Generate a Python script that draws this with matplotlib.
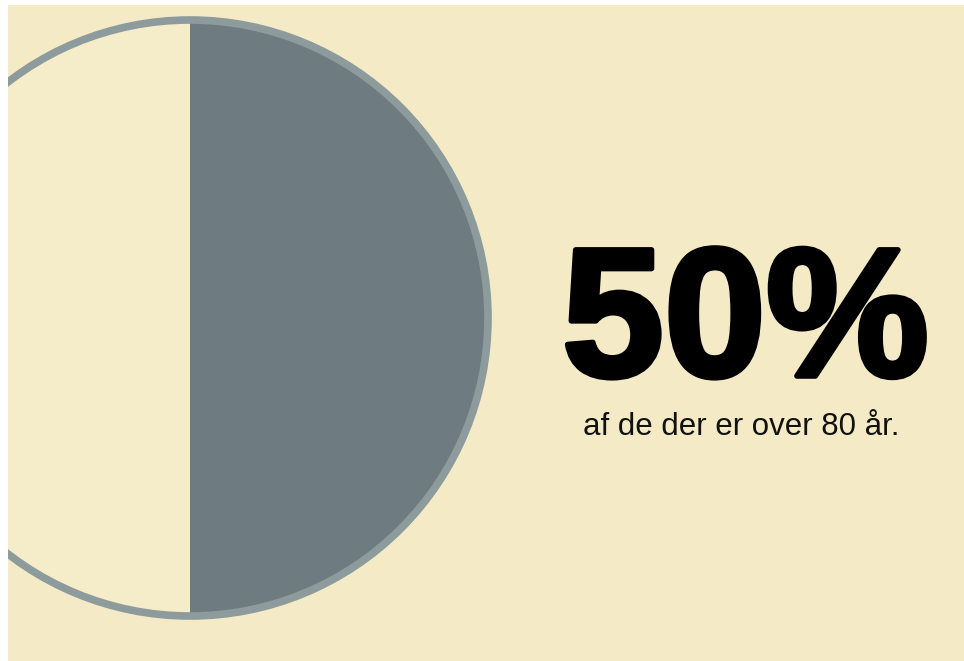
import matplotlib
matplotlib.use("Agg")
import matplotlib.pyplot as plt
import matplotlib.patches as mpatches
import matplotlib.patheffects as pe
import numpy as np

# ---- data ----
labels = ["Under 80 år", "Over 80 år"]
shares = [50, 50]
headline = "50%"
subtitle = "af de der er over 80 år."

# ---- style ----
BG = "#F4EBC6"
WEDGE_COLORS = ["#F5ECC9", "#6E7B80"]
RING = "#8D9B9D"

W, H = 964, 661
fig = plt.figure(figsize=(W / 100, H / 100), dpi=100, facecolor=BG)
left_px, top_px = 8, 5
ax = fig.add_axes([left_px / W, 0, (W - left_px) / W, (H - top_px) / H])
ax.set_facecolor(BG)

# white frame strips (top and left) as in the reference screenshot
fig.add_artist(mpatches.Rectangle((0, 0), left_px / W, 1, transform=fig.transFigure,
                                  facecolor="white", edgecolor="none", zorder=10))
fig.add_artist(mpatches.Rectangle((0, 1 - top_px / H), 1, top_px / H, transform=fig.transFigure,
                                  facecolor="white", edgecolor="none", zorder=10))

cx, cy, r = 190, 318, 298
ax.pie(shares, colors=WEDGE_COLORS, startangle=90, counterclock=True,
       center=(cx, cy), radius=r,
       wedgeprops=dict(linewidth=0, antialiased=True))
ax.add_patch(mpatches.Circle((cx, cy), r, fill=False, edgecolor=RING,
                             linewidth=5.5))

ax.set_xlim(left_px, W)
ax.set_ylim(H, top_px)
ax.set_aspect("auto")
for s in ax.spines.values():
    s.set_visible(False)
ax.set_xticks([])
ax.set_yticks([])

ax.text(562, 376, headline, fontsize=132, fontweight="bold",
        family=["Liberation Sans", "DejaVu Sans"], color="black",
        ha="left", va="baseline",
        path_effects=[pe.withStroke(linewidth=4, foreground="black")])
ax.text(583, 435, subtitle, fontsize=22.5,
        family=["Liberation Sans", "DejaVu Sans"], color="#111111",
        ha="left", va="baseline")

fig.savefig("out.png", dpi=100, facecolor=BG)
